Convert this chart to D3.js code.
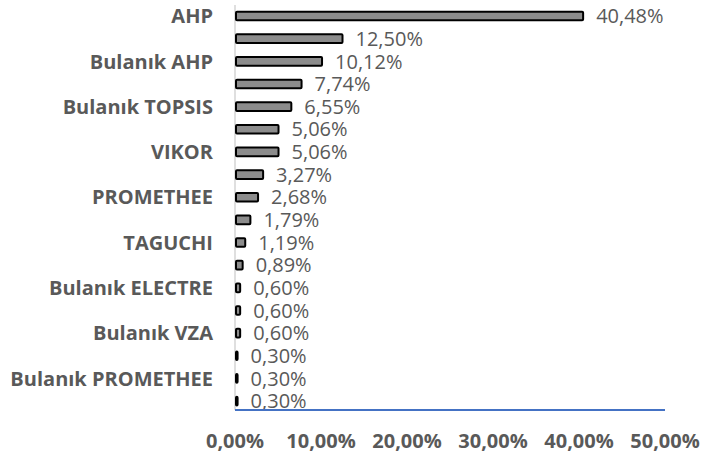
<!DOCTYPE html>
<html>
<head>
<meta charset="utf-8">
<script src="https://cdn.jsdelivr.net/npm/d3@7"></script>
<style>
body { margin: 0; background: #fff; }
svg text { font-family: "Open Sans", sans-serif; fill: #595959; }
</style>
</head>
<body>
<svg id="chart" width="702" height="455"></svg>
<script>
// category labels (only every other one is printed on the original axis)
var labels = ["AHP", "", "Bulanık AHP", "", "Bulanık TOPSIS", "", "VIKOR", "",
  "PROMETHEE", "", "TAGUCHI", "", "Bulanık ELECTRE", "", "Bulanık VZA", "",
  "Bulanık PROMETHEE", ""];
var values = [40.48, 12.50, 10.12, 7.74, 6.55, 5.06, 5.06, 3.27, 2.68, 1.79,
  1.19, 0.89, 0.60, 0.60, 0.60, 0.30, 0.30, 0.30];
var ticks = [0, 10, 20, 30, 40, 50];

var margin = {top: 5, left: 235, right: 37, bottom: 45};
var width = 702, height = 455;

var svg = d3.select("#chart");

var x = d3.scaleLinear().domain([0, 50]).range([margin.left, width - margin.right]);
var y = d3.scaleBand().domain(d3.range(values.length))
  .range([4.7, 412.4]).paddingInner(0.62).paddingOuter(0.31);

var fmt = function(v) { return v.toFixed(2).replace(".", ",") + "%"; };

// vertical axis line
svg.append("line")
  .attr("x1", x(0)).attr("x2", x(0))
  .attr("y1", margin.top).attr("y2", height - margin.bottom)
  .attr("stroke", "#bfbfbf").attr("stroke-width", 1);

// bars
svg.append("g").selectAll("rect")
  .data(values)
  .enter().append("rect")
  .attr("x", x(0) + 1)
  .attr("y", (d, i) => y(i))
  .attr("width", d => Math.max(x(d) - x(0) - 1, 1))
  .attr("height", y.bandwidth())
  .attr("fill", "#8c8c8c")
  .attr("stroke", "#000")
  .attr("stroke-width", 2)
  .attr("rx", 1);

// value labels
svg.append("g").selectAll("text")
  .data(values)
  .enter().append("text")
  .attr("x", d => x(d) + 13)
  .attr("y", (d, i) => y(i) + y.bandwidth() / 2)
  .attr("dy", "0.36em")
  .style("font-size", "20px")
  .text(fmt);

// category labels
svg.append("g").selectAll("text")
  .data(labels)
  .enter().append("text")
  .attr("x", x(0) - 22)
  .attr("y", (d, i) => y(i) + y.bandwidth() / 2)
  .attr("dy", "0.36em")
  .attr("text-anchor", "end")
  .style("font-size", "20px")
  .style("font-weight", "bold")
  .text(d => d);

// x axis baseline
svg.append("line")
  .attr("x1", x(0)).attr("x2", x(50))
  .attr("y1", height - margin.bottom).attr("y2", height - margin.bottom)
  .attr("stroke", "#4472c4").attr("stroke-width", 2);

// tick labels
svg.append("g").selectAll("text")
  .data(ticks)
  .enter().append("text")
  .attr("x", d => x(d))
  .attr("y", 448)
  .attr("text-anchor", "middle")
  .style("font-size", "20px")
  .style("font-weight", "bold")
  .text(fmt);
</script>
</body>
</html>
